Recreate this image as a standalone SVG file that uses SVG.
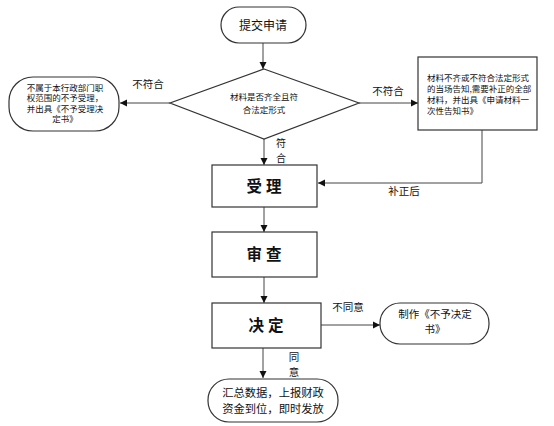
<svg xmlns="http://www.w3.org/2000/svg" width="554" height="426" viewBox="0 0 554 426">
<style>
.shape{fill:#fff;stroke:#333;stroke-width:1.2}
.line{fill:none;stroke:#444;stroke-width:1}
.t{font-family:"Noto Sans CJK SC","Liberation Sans",sans-serif;fill:#111}
.s9{font-size:8.5px}
.s10{font-size:10.5px}
.s10b{font-size:10px}
.s11{font-size:11.3px}
.s12{font-size:12px}
.big{font-size:15.5px;font-weight:bold;letter-spacing:4px}
</style>
<defs>
<marker id="ah" markerWidth="8" markerHeight="8" refX="7" refY="4" orient="auto" markerUnits="userSpaceOnUse">
<path d="M0,0.5 L7,4 L0,7.5 Z" fill="#111"/>
</marker>
</defs>
<rect width="554" height="426" fill="#fff"/>
<g id="connectors">
<path class="line" d="M263,43 V69" marker-end="url(#ah)"/>
<path class="line" d="M170,103 H120" marker-end="url(#ah)"/>
<path class="line" d="M359,103 H418" marker-end="url(#ah)"/>
<path class="line" d="M264,139 V165" marker-end="url(#ah)"/>
<path class="line" d="M482,130 V183 H318" marker-end="url(#ah)"/>
<path class="line" d="M264,207 V232" marker-end="url(#ah)"/>
<path class="line" d="M264,277 V303" marker-end="url(#ah)"/>
<path class="line" d="M321,325 H380" marker-end="url(#ah)"/>
<path class="line" d="M263,348 V378" marker-end="url(#ah)"/>
<text class="t s10" x="148" y="88" text-anchor="middle">不符合</text>
<text class="t s10" x="388" y="95" text-anchor="middle">不符合</text>
<text class="t s10b" x="281" y="147" text-anchor="middle">符</text>
<text class="t s10b" x="281" y="161.5" text-anchor="middle">合</text>
<text class="t s10" x="404" y="195" text-anchor="middle">补正后</text>
<text class="t s10" x="348" y="311" text-anchor="middle">不同意</text>
<text class="t s10" x="294" y="361" text-anchor="middle">同</text>
<text class="t s10" x="294" y="376" text-anchor="middle">意</text>
</g>
<g id="start">
<rect class="shape" x="221" y="7" width="85" height="36" rx="18" ry="18"/>
<text class="t s12" x="263" y="29.5" text-anchor="middle">提交申请</text>
</g>
<g id="check">
<polygon class="shape" points="264,69 359,103 264,139 170,103"/>
<text class="t s9" x="264" y="100" text-anchor="middle">材料是否齐全且符</text>
<text class="t s9" x="264" y="113" text-anchor="middle">合法定形式</text>
</g>
<g id="reject">
<rect class="shape" x="9" y="77" width="110" height="54" rx="24" ry="24"/>
<text class="t s9" x="65" y="90.5" text-anchor="middle">不属于本行政部门职</text>
<text class="t s9" x="65" y="101" text-anchor="middle">权范围的不予受理，</text>
<text class="t s9" x="65" y="111.5" text-anchor="middle">并出具《不予受理决</text>
<text class="t s9" x="65" y="122" text-anchor="middle">定书》</text>
</g>
<g id="notify">
<rect class="shape" x="418" y="57" width="119" height="73"/>
<text class="t s9" x="427" y="81">材料不齐或不符合法定形式</text>
<text class="t s9" x="427" y="92">的当场告知,需要补正的全部</text>
<text class="t s9" x="427" y="103">材料，并出具《申请材料一</text>
<text class="t s9" x="427" y="114">次性告知书》</text>
</g>
<g id="accept">
<rect class="shape" x="212" y="165" width="105" height="42"/>
<text class="t big" x="266" y="191.5" text-anchor="middle">受理</text>
</g>
<g id="review">
<rect class="shape" x="212" y="232" width="105" height="45"/>
<text class="t big" x="266" y="260" text-anchor="middle">审查</text>
</g>
<g id="decide">
<rect class="shape" x="212" y="303" width="109" height="45"/>
<text class="t big" x="268" y="331" text-anchor="middle">决定</text>
</g>
<g id="refuse">
<rect class="shape" x="380" y="303" width="109" height="41" rx="20" ry="20"/>
<text class="t s10" x="435" y="318" text-anchor="middle">制作《不予决定</text>
<text class="t s10" x="435" y="333" text-anchor="middle">书》</text>
</g>
<g id="finish">
<rect class="shape" x="208" y="379" width="130" height="43" rx="21" ry="21"/>
<text class="t s11" x="273" y="397" text-anchor="middle">汇总数据，上报财政</text>
<text class="t s11" x="273" y="412.5" text-anchor="middle">资金到位，即时发放</text>
</g>
</svg>
